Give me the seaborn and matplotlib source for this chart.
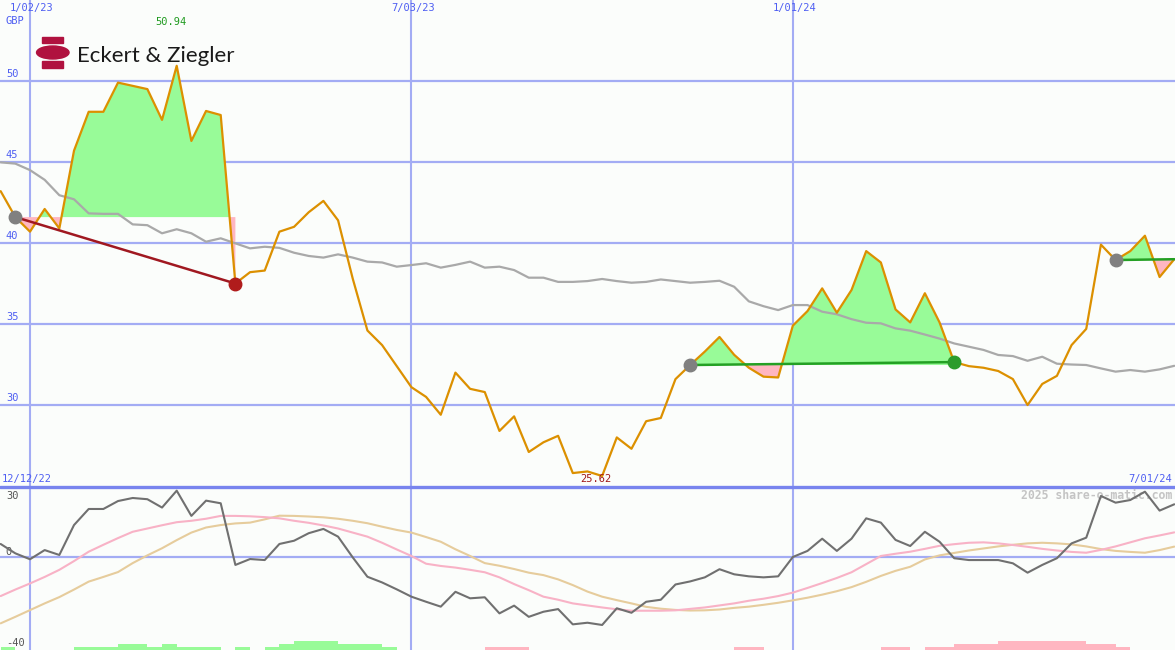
import numpy as np
import pandas as pd
import matplotlib
matplotlib.use("Agg")
import matplotlib.pyplot as plt
import seaborn as sns
from matplotlib.patches import Ellipse, Rectangle

# ------------------------------------------------------------------ data
week_start = "2022-12-19"          # first weekly bar
price = [43.2, 41.6, 40.7, 42.1, 40.9, 45.7, 48.1, 48.1, 49.9, 49.7,
         49.5, 47.6, 50.94, 46.3, 48.15, 47.9, 37.5, 38.2, 38.3, 40.7,
         41.0, 41.9, 42.6, 41.4, 37.8, 34.6, 33.7, 32.4, 31.1, 30.5,
         29.4, 32.0, 31.0, 30.8, 28.4, 29.3, 27.1, 27.7, 28.1, 25.8,
         25.9, 25.62, 28.0, 27.3, 29.0, 29.2, 31.6, 32.47, 33.3, 34.2,
         33.1, 32.3, 31.75, 31.7, 34.9, 35.8, 37.2, 35.7, 37.1, 39.5,
         38.8, 35.9, 35.1, 36.9, 35.1, 32.65, 32.4, 32.3, 32.1, 31.6,
         30.0, 31.3, 31.8, 33.7, 34.7, 39.9, 38.95, 39.5, 40.45, 37.9,
         39.0]
moving_avg = [44.98, 44.9, 44.5, 43.9, 42.95, 42.7, 41.83, 41.8, 41.8, 41.15,
              41.1, 40.6, 40.85, 40.6, 40.08, 40.29, 39.98, 39.67, 39.77, 39.7,
              39.4, 39.2, 39.1, 39.3, 39.1, 38.85, 38.8, 38.54, 38.64, 38.75,
              38.48, 38.65, 38.85, 38.48, 38.54, 38.33, 37.86, 37.86, 37.6, 37.6,
              37.65, 37.78, 37.65, 37.55, 37.6, 37.75, 37.65, 37.55, 37.6, 37.67,
              37.3, 36.4, 36.1, 35.86, 36.17, 36.17, 35.76, 35.6, 35.3, 35.08,
              35.04, 34.73, 34.59, 34.35, 34.1, 33.8, 33.6, 33.4, 33.09, 33.02,
              32.73, 32.98, 32.55, 32.5, 32.47, 32.26, 32.06, 32.16, 32.06, 32.2,
              32.42]
oscillator = [6.4, 1.8, -1.1, 3.4, 1.0, 15.7, 23.6, 23.6, 27.5, 29.0,
              28.4, 24.3, 32.6, 20.2, 27.7, 26.4, -3.9, -1.0, -1.5, 6.4,
              8.0, 11.7, 13.8, 10.0, -0.2, -9.7, -12.5, -15.9, -19.5, -22.0,
              -24.4, -17.1, -20.3, -19.8, -27.7, -23.9, -29.4, -26.9, -25.6, -33.1,
              -32.3, -33.4, -25.2, -27.4, -22.0, -21.0, -13.5, -12.0, -10.0, -6.0,
              -8.5, -9.5, -10.0, -9.5, 0.0, 3.0, 9.0, 3.0, 9.0, 19.0,
              16.9, 8.4, 5.4, 12.4, 7.5, -0.6, -1.5, -1.5, -1.5, -3.1,
              -7.7, -3.9, -0.6, 6.7, 9.5, 30.0, 26.7, 28.0, 32.1, 22.8,
              25.9]
fast_line = [-19.2, -16.0, -13.0, -9.8, -6.3, -2.0, 2.6, 6.0, 9.3, 12.4,
             14.0, 15.6, 17.1, 17.8, 18.8, 20.2, 20.2, 20.0, 19.6, 19.0,
             17.8, 16.8, 15.5, 14.0, 12.0, 10.0, 7.0, 3.7, 0.5, -3.3,
             -4.4, -5.2, -6.3, -7.5, -10.0, -13.3, -16.3, -19.5, -21.0, -22.8,
             -23.8, -24.8, -25.7, -26.4, -26.4, -26.4, -26.2, -25.5, -24.8, -23.8,
             -22.8, -21.5, -20.5, -19.2, -17.5, -15.2, -12.8, -10.3, -7.5, -3.5,
             0.5, 1.6, 2.6, 4.0, 5.5, 6.3, 7.0, 7.2, 6.7, 5.9,
             5.0, 4.0, 3.2, 2.5, 2.1, 3.5, 5.2, 7.2, 9.2, 10.6,
             12.1]
slow_line = [-32.6, -29.4, -26.1, -22.8, -19.7, -16.0, -12.1, -9.8, -7.4, -3.0,
             0.8, 4.3, 8.3, 12.0, 14.5, 15.7, 16.5, 16.9, 18.5, 20.3,
             20.2, 19.9, 19.5, 18.8, 17.8, 16.6, 14.9, 13.3, 12.0, 9.8,
             7.5, 3.8, 0.5, -3.0, -4.3, -5.9, -7.7, -8.9, -11.0, -13.8,
             -17.0, -19.5, -21.2, -22.8, -24.5, -25.4, -26.0, -26.3, -26.2, -25.8,
             -25.0, -24.4, -23.5, -22.5, -21.3, -20.0, -18.5, -16.8, -14.8, -12.2,
             -9.3, -6.8, -4.8, -1.2, 0.8, 2.0, 3.2, 4.2, 5.2, 6.0,
             6.7, 7.0, 6.7, 6.2, 5.2, 3.9, 3.0, 2.5, 2.1, 3.4,
             5.1]
histogram = [1.3, 0, 0, 0, 0, 1.3, 1.3, 1.3, 3.1, 3.1,
             1.3, 3.1, 1.3, 1.3, 1.3, 0, 1.3, 0, 1.3, 3.1,
             4.4, 4.4, 4.4, 3.1, 3.1, 3.1, 1.3, 0, 0, 0,
             0, 0, 0, -1.3, -1.3, -1.3, 0, 0, 0, 0,
             0, 0, 0, 0, 0, 0, 0, 0, 0, 0,
             -1.3, -1.3, 0, 0, 0, 0, 0, 0, 0, 0,
             -1.3, -1.3, 0, -1.3, -1.3, -3.1, -3.1, -3.1, -4.4, -4.4,
             -4.4, -4.4, -4.4, -4.4, -3.1, -3.1, -1.3, 0, 0, 0,
             0]
trade_entries = [1, 47, 76]
trade_exits = [16, 65, 80]
trade_closed = [True, True, False]
price_ticks = [50, 45, 40, 35, 30]
osc_ticks = [30, 0, -40]
date_labels = ["1/02/23", "7/03/23", "1/01/24"]
first_label, last_label = "12/12/22", "7/01/24"
currency = "GBP"
high_label, low_label = "50.94", "25.62"
company = "Eckert & Ziegler"
watermark = "2025 share-o-matic.com"

# ------------------------------------------------------------------ frame
dates = pd.date_range(week_start, periods=len(price), freq="7D")
week = np.arange(len(price))
df = pd.DataFrame({"week": week, "date": dates, "price": price, "ma": moving_avg,
                   "osc": oscillator, "fast": fast_line, "slow": slow_line,
                   "hist": histogram})
date_idx = [int(np.where(dates == pd.Timestamp(d))[0][0])
            for d in pd.to_datetime(date_labels, format="%m/%d/%y")]

sns.set_theme(style="white")
plt.rcParams["font.family"] = ["DejaVu Sans"]

BG = "#fbfdfb"
GRID = "#a3acf4"
TXT = "#4e5ef2"
MONO = "DejaVu Sans Mono"

fig = plt.figure(figsize=(11.75, 6.5), dpi=100, facecolor=BG)
ax = fig.add_axes([0, 163 / 650, 1, 487 / 650])
ax2 = fig.add_axes([0, 0, 1, 163 / 650])
XLIM = (-0.045, 80.05)
for a in (ax, ax2):
    a.set_facecolor(BG)
    a.set_xlim(*XLIM)
    a.set_xticks([]); a.set_yticks([])
    for s in a.spines.values():
        s.set_visible(False)
    for d in date_idx:
        a.axvline(d, color=GRID, lw=1.5, zorder=1)
ax.set_ylim(24.94, 55.0)
ax2.set_ylim(-45.7, 34.4)

# ------------------------------------------------------------------ main
for t in price_ticks:
    ax.axhline(t, color=GRID, lw=1.6, zorder=1)
    ax.text(0.005, t + 0.12, str(t), transform=ax.get_yaxis_transform(),
            ha="left", va="bottom", color=TXT, fontsize=7.5, family=MONO)
ax.text(0.005, 0.956, currency, transform=ax.transAxes, ha="left", va="center",
        color=TXT, fontsize=7.5, family=MONO)
for lab, d in zip(date_labels, date_idx):
    ax.annotate(lab, xy=(d, 1), xycoords=("data", "axes fraction"),
                xytext=(2, -8), textcoords="offset pixels", ha="center",
                va="center", color=TXT, fontsize=7.5, family=MONO)
ax.text(0.0015, 0.0165, first_label, transform=ax.transAxes, ha="left",
        va="center", color=TXT, fontsize=7.5, family=MONO)
ax.text(0.9975, 0.0165, last_label, transform=ax.transAxes, ha="right",
        va="center", color=TXT, fontsize=7.5, family=MONO)

p = np.array(price)
for e, x_, closed in zip(trade_entries, trade_exits, trade_closed):
    seg = slice(e, x_ + 1)
    base = p[e]
    xs = week[seg]; ys = p[seg]
    ax.fill_between(xs, ys, base, where=ys >= base, interpolate=True,
                    color="#98fb98", lw=0, zorder=2)
    ax.fill_between(xs, ys, base, where=ys <= base, interpolate=True,
                    color="#ffb6c1", lw=0, zorder=2)

sns.lineplot(data=df, x="week", y="ma", ax=ax, color="#a9a9a9", lw=1.6, zorder=3)
sns.lineplot(data=df, x="week", y="price", ax=ax, color="#dc9000", lw=1.6, zorder=4)

for e, x_, closed in zip(trade_entries, trade_exits, trade_closed):
    gain = p[x_] >= p[e]
    lc = "#24a024" if gain else "#a01820"
    ax.plot([e, x_], [p[e], p[x_]], color=lc, lw=1.8, zorder=5)
    ax.plot(e, p[e], "o", ms=9, color="#808080", zorder=6)
    if closed:
        ax.plot(x_, p[x_], "o", ms=9, color="#2c9c2c" if gain else "#b01c1c",
                zorder=6)

hi = int(np.argmax(p)); lo = int(np.argmin(p))
ax.annotate(high_label, xy=(hi, 1), xycoords=("data", "axes fraction"),
            xytext=(-6, -22), textcoords="offset pixels", ha="center",
            va="center", color="#1f9a1f", fontsize=7.5, family=MONO)
ax.annotate(low_label, xy=(lo, p[lo]), xytext=(-6, -3),
            textcoords="offset pixels", ha="center", va="center",
            color="#a01818", fontsize=7.5, family=MONO, zorder=7)
ax.set_xlabel(""); ax.set_ylabel("")

# logo
def fx(px): return px / 1175
def fy(py): return 1 - py / 650
LOGO = "#b0123f"
fig.patches.append(Rectangle((fx(41.7), fy(43.3)), fx(21.6), 6 / 650,
                             transform=fig.transFigure, color=LOGO))
fig.patches.append(Rectangle((fx(41.7), fy(68.3)), fx(21.6), 7.3 / 650,
                             transform=fig.transFigure, color=LOGO))
fig.patches.append(Ellipse((fx(52.8), fy(52.5)), fx(32.5), 13 / 650,
                           transform=fig.transFigure, color=LOGO))
fig.text(fx(77), fy(61.7), company, ha="left", va="baseline",
         fontsize=16, color="#1a1a1a", family="Lato")

# ------------------------------------------------------------------ lower
ax2.axhline(0, color=GRID, lw=1.6, zorder=1)
ax2.axhline(34.4, color="#7884ee", lw=2.4, zorder=1, clip_on=False)
h = np.array(histogram)
bottom = ax2.get_ylim()[0]
ax2.bar(week, np.abs(h), width=1.0, align="edge", bottom=bottom,
        color=np.where(h >= 0, "#98fb98", "#ffb6c1"), lw=0, zorder=2)
sns.lineplot(data=df, x="week", y="slow", ax=ax2, color="#e6cc9c", lw=1.5, zorder=3)
sns.lineplot(data=df, x="week", y="fast", ax=ax2, color="#f8b2c6", lw=1.5, zorder=3)
sns.lineplot(data=df, x="week", y="osc", ax=ax2, color="#707070", lw=1.5, zorder=4)
ax2.set_xlabel(""); ax2.set_ylabel("")
tr = ax2.get_yaxis_transform()
ax2.text(0.005, osc_ticks[0], str(osc_ticks[0]), transform=tr, ha="left",
         va="center", color="#555555", fontsize=7.5, family=MONO)
ax2.text(0.005, osc_ticks[1], str(osc_ticks[1]), transform=tr, ha="left",
         va="bottom", color="#555555", fontsize=7.5, family=MONO)
ax2.text(0.005, osc_ticks[2], str(osc_ticks[2]), transform=tr, ha="left",
         va="top", color="#555555", fontsize=7.5, family=MONO)
ax2.text(0.9975, 0.947, watermark, transform=ax2.transAxes, ha="right",
         va="center", color="#c4c4c4", fontsize=8.3, family=MONO,
         fontweight="bold")

fig.savefig("out.png", dpi=100, facecolor=BG)
